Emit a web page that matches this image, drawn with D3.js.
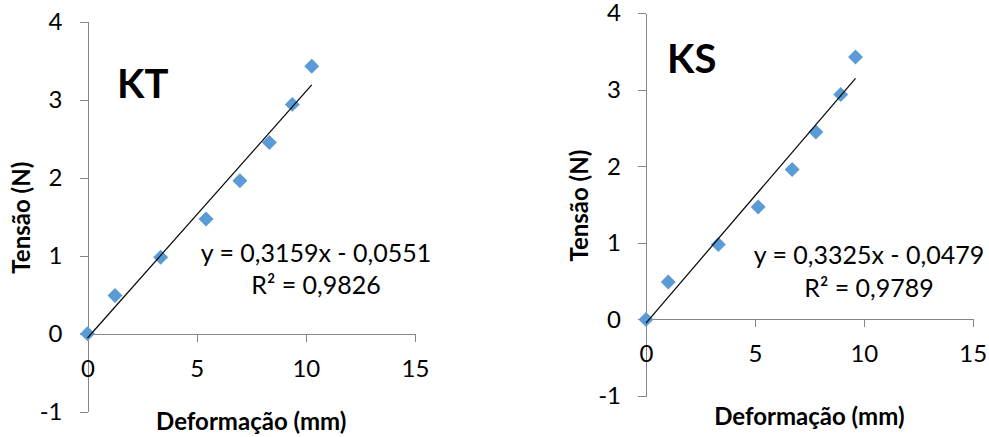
<!DOCTYPE html>
<html>
<head>
<meta charset="utf-8">
<script src="https://cdn.jsdelivr.net/npm/d3@7"></script>
<style>
  body { margin: 0; background: #fff; }
  svg { display: block; font-family: Lato, "Open Sans", sans-serif; }
</style>
</head>
<body>
<svg id="chart" width="989" height="437"></svg>
<script>
// data
var panelNames = ["KT", "KS"];
var tensao = [0, 0.49, 0.98, 1.47, 1.96, 2.45, 2.94, 3.43];
var deformKT = [0, 1.26, 3.35, 5.43, 6.98, 8.33, 9.38, 10.27];
var deformKS = [0, 1.02, 3.32, 5.15, 6.71, 7.80, 8.94, 9.62];
var slopes = [0.3159, 0.3325];
var intercepts = [-0.0551, -0.0479];
var eqLabels = ["y = 0,3159x - 0,0551", "y = 0,3325x - 0,0479"];
var r2Labels = ["R² = 0,9826", "R² = 0,9789"];
var xTicks = [0, 5, 10, 15];
var yTicks = [-1, 0, 1, 2, 3, 4];

// layout of the two panels (pixels)
var panels = [
  {x0: 87.5, x1: 415, yTop: 21.7, yBot: 411.7, titleX: 117, titleY: 98, yTitleX: 22, xTitleY: 430, eqX: 316, eqY: 262, r2Y: 294},
  {x0: 646, x1: 972.7, yTop: 13.3, yBot: 396, titleX: 667, titleY: 73, yTitleX: 580, xTitleY: 425, eqX: 869, eqY: 264, r2Y: 297}
];
var seriesX = [deformKT, deformKS];

function draw() {
  var svg = d3.select("#chart");
  var axisColor = "#868686";

  panels.forEach(function(p, i) {
    var g = svg.append("g");
    var x = d3.scaleLinear().domain([0, 15]).range([p.x0, p.x1]);
    var y = d3.scaleLinear().domain([-1, 4]).range([p.yBot, p.yTop]);

    // y axis
    var ya = g.append("g")
      .attr("transform", "translate(" + x(0) + ",0)")
      .call(d3.axisLeft(y).tickValues(yTicks).tickSize(8).tickSizeOuter(0).tickPadding(17)
        .tickFormat(function(d) { return String(d); }));

    // x axis at y = 0
    var xa = g.append("g")
      .attr("transform", "translate(0," + y(0) + ")")
      .call(d3.axisBottom(x).tickValues(xTicks).tickSize(8).tickSizeOuter(0).tickPadding(18)
        .tickFormat(function(d) { return String(d); }));

    [ya, xa].forEach(function(a) {
      a.selectAll("path, line").attr("stroke", axisColor).attr("shape-rendering", "crispEdges");
      a.selectAll("text").attr("fill", "#000").style("font-size", "24px").style("font-family", "Lato, 'Open Sans', sans-serif");
    });

    // data points
    var pts = seriesX[i].map(function(d, j) { return [d, tensao[j]]; });
    g.selectAll("path.pt").data(pts).enter()
      .append("path")
      .attr("class", "pt")
      .attr("d", d3.symbol(d3.symbolSquare, 112))
      .attr("transform", function(d) { return "translate(" + x(d[0]) + "," + y(d[1]) + ") rotate(45)"; })
      .attr("fill", "#5b9bd5");

    // linear trendline
    var xmax = d3.max(seriesX[i]);
    g.append("line")
      .attr("x1", x(0)).attr("y1", y(intercepts[i]))
      .attr("x2", x(xmax)).attr("y2", y(slopes[i] * xmax + intercepts[i]))
      .attr("stroke", "#000").attr("stroke-width", 1.2);

    // equation labels
    g.append("text").attr("x", p.eqX).attr("y", p.eqY)
      .attr("text-anchor", "middle").style("font-size", "25px").text(eqLabels[i]);
    g.append("text").attr("x", p.eqX).attr("y", p.r2Y)
      .attr("text-anchor", "middle").style("font-size", "25px").text(r2Labels[i]);

    // panel title
    g.append("text").attr("x", p.titleX).attr("y", p.titleY)
      .style("font-size", "40px").style("font-weight", "bold").text(panelNames[i]);

    // axis titles
    g.append("text")
      .attr("transform", "translate(" + p.yTitleX + "," + ((p.yTop + p.yBot) / 2 + 1) + ") rotate(-90)")
      .attr("text-anchor", "middle").attr("dy", "0.35em")
      .style("font-size", "24px").style("font-weight", "bold").text("Tensão (N)");
    g.append("text")
      .attr("x", (p.x0 + p.x1) / 2).attr("y", p.xTitleY)
      .attr("text-anchor", "middle")
      .style("font-size", "24px").style("font-weight", "bold").text("Deformação (mm)");
  });
}

draw();
</script>
</body>
</html>
